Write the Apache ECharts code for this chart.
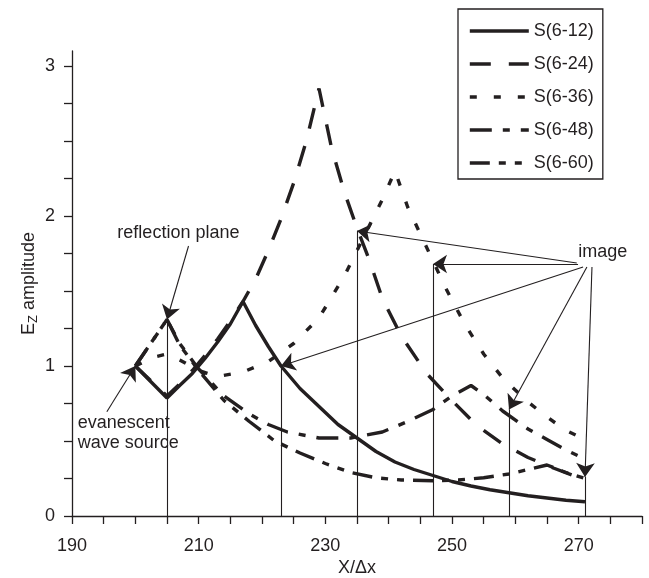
<!DOCTYPE html>
<html><head><meta charset="utf-8">
<script src="https://cdn.jsdelivr.net/npm/echarts@6/dist/echarts.min.js"></script>
<style>html,body{margin:0;padding:0;background:#fff}#c{width:649px;height:578px}</style>
</head><body><div id="c"></div>
<script>
// ---------- data ----------
const seriesNames = ['S(6-12)', 'S(6-24)', 'S(6-36)', 'S(6-48)', 'S(6-60)'];

const x612 = [200,205,207,209,211,213,215,217,219,221,223,226,229,232,235,238,241,244,247,250,253,256,259,262,265,268,271];
const y612 = [1.0,0.787,0.87,0.95,1.05,1.16,1.28,1.43,1.27,1.13,1.0,0.85,0.73,0.61,0.52,0.43,0.36,0.31,0.27,0.23,0.2,0.175,0.155,0.135,0.12,0.105,0.095];

const x624 = [200,205,207,209,211,213,215,217,219,221,223,225,227,229,231,233,235,237,239,242,246,250,254,258,262,266,271];
const y624 = [1.0,0.8,0.88,0.97,1.07,1.18,1.3,1.43,1.58,1.77,1.98,2.22,2.5,2.85,2.45,2.16,1.92,1.7,1.45,1.2,0.95,0.77,0.6,0.48,0.39,0.32,0.24];

const x636 = [200,203,205,207,210,213,217,221,225,229,233,237,239,241,243,245,247,249,252,255,258,262,265,268,271];
const y636 = [1.0,1.06,1.08,1.04,0.97,0.93,0.96,1.03,1.15,1.32,1.6,1.94,2.11,2.3,2.06,1.88,1.7,1.52,1.28,1.08,0.92,0.76,0.66,0.57,0.51];

const x648 = [200,205,207,210,214,218,221,224,229,234,239,243,247,250,253,255,258,262,265,268,271];
const y648 = [1.0,1.31,1.15,0.98,0.8,0.68,0.61,0.56,0.52,0.52,0.56,0.63,0.71,0.8,0.87,0.81,0.7,0.58,0.51,0.44,0.38];

const x660 = [200,205,207,210,214,218,222,226,230,234,238,242,247,251,255,259,262,265,268,271];
const y660 = [1.0,1.31,1.14,0.97,0.77,0.63,0.5,0.42,0.35,0.29,0.255,0.24,0.235,0.24,0.255,0.28,0.31,0.34,0.29,0.25];

const xLabelValues = [190, 210, 230, 250, 270];
const yLabelValues = [0, 1, 2, 3];
const yTickValues = [0,0.25,0.5,0.75,1,1.25,1.5,1.75,2,2.25,2.5,2.75,3];

// annotations (data coordinates)
const planeX = 205, planeY = 1.31;
const planeFrom = [208.4, 1.80];
const sourcePoint = [200, 1.0];
const sourceFrom = [195.5, 0.695];
const imageX = [223, 235, 247, 259, 271];
const imageY = [1.0, 1.9, 1.68, 0.71, 0.26];
const imageFrom = [[270.7, 1.66], [269.7, 1.687], [269.9, 1.68], [271.3, 1.66], [272.1, 1.66]];
const textNotes = [
  {text: 'reflection plane', at: [206.8, 1.887], align: 'center'},
  {text: 'image', at: [273.8, 1.76], align: 'center'},
  {text: 'evanescent\nwave source', at: [190.9, 0.553], align: 'left'}
];

// ---------- chart ----------
const FONT = '"Liberation Sans", Arial, Helvetica, sans-serif';
const INK = '#231f20';
const pairs = (xs, ys) => xs.map((x, i) => [x, ys[i]]);
const dashes = ['solid', [21, 18], [7, 17], [22, 11, 7, 11], [20, 9, 7, 9, 7, 9]];
const xs = [x612, x624, x636, x648, x660];
const ys = [y612, y624, y636, y648, y660];

const curveSeries = seriesNames.map((name, i) => ({
  name, type: 'line', data: pairs(xs[i], ys[i]), symbol: 'none', showSymbol: false, smooth: false,
  lineStyle: {color: INK, width: 3.4, type: dashes[i]}, itemStyle: {color: INK}, z: 5
}));

const verticalData = [[planeX, planeY]].concat(imageX.map((x, i) => [x, imageY[i]]))
  .map(p => ({coords: [[p[0], 0], p]}));
const arrowData = [
  {coords: [planeFrom, [planeX, planeY]]},
  {coords: [sourceFrom, sourcePoint]}
].concat(imageFrom.map((f, i) => ({coords: [f, [imageX[i], imageY[i]]]})));

const chart = echarts.init(document.getElementById('c'), null, {renderer: 'canvas'});
chart.setOption({
  animation: false,
  backgroundColor: '#fff',
  textStyle: {fontFamily: FONT},
  grid: {left: 72, right: 7, top: 51, bottom: 62, outerBoundsMode: 'none', containLabel: false},
  legend: {
    orient: 'vertical', left: 458, top: 9, data: seriesNames,
    itemWidth: 59, itemHeight: 14, itemGap: 15, itemTextGap: 8,
    padding: [13, 9, 7, 10], borderColor: INK, borderWidth: 1.3,
    itemStyle: {opacity: 0, borderWidth: 0},
    lineStyle: {width: 3.6},
    textStyle: {fontSize: 18, color: INK, fontFamily: FONT}
  },
  xAxis: {
    type: 'value', min: 190, max: 280, interval: 5,
    name: 'X/Δx', nameLocation: 'middle', nameGap: 43, nameMoveOverlap: false,
    nameTextStyle: {fontSize: 18, color: INK, fontFamily: FONT},
    axisLine: {lineStyle: {color: INK, width: 1.3}},
    axisTick: {inside: false, length: 8, lineStyle: {color: INK, width: 1.3}},
    axisLabel: {fontSize: 18, color: INK, margin: 21, fontFamily: FONT,
      formatter: v => (xLabelValues.indexOf(v) >= 0 ? String(v) : '')},
    splitLine: {show: false}
  },
  yAxis: {
    type: 'value', min: 0, max: 3.1,
    name: '{a|E}{s|Z}{a| amplitude}', nameLocation: 'middle', nameGap: 32, nameRotate: 90,
    nameMoveOverlap: false,
    nameTextStyle: {color: INK, fontFamily: FONT, rich: {
      a: {fontSize: 18, color: INK, fontFamily: FONT},
      s: {fontSize: 13, color: INK, fontFamily: FONT, verticalAlign: 'bottom', padding: [8, 0, 0, 0]}
    }},
    axisLine: {show: true, lineStyle: {color: INK, width: 1.3}},
    axisTick: {show: true, inside: false, length: 8, customValues: yTickValues, lineStyle: {color: INK, width: 1.3}},
    axisLabel: {fontSize: 18, color: INK, margin: 17, customValues: yLabelValues, fontFamily: FONT},
    splitLine: {show: false}
  },
  series: curveSeries.concat([
    {type: 'lines', coordinateSystem: 'cartesian2d', data: verticalData, symbol: 'none',
     lineStyle: {color: INK, width: 1.1, opacity: 1}, z: 3, silent: true},
    {type: 'lines', coordinateSystem: 'cartesian2d', data: arrowData,
     symbol: ['none', 'arrow'], symbolSize: 14,
     lineStyle: {color: INK, width: 1.1, opacity: 1}, z: 6, silent: true}
  ])
});

// text annotations placed from data coordinates
chart.setOption({
  graphic: textNotes.map(n => {
    const p = chart.convertToPixel({gridIndex: 0}, n.at);
    return {type: 'text', x: p[0], y: p[1], z: 100, silent: true,
      style: {text: n.text, fill: INK, font: '18px ' + FONT, align: n.align,
        verticalAlign: 'middle', lineHeight: 20}};
  })
});
</script></body></html>
